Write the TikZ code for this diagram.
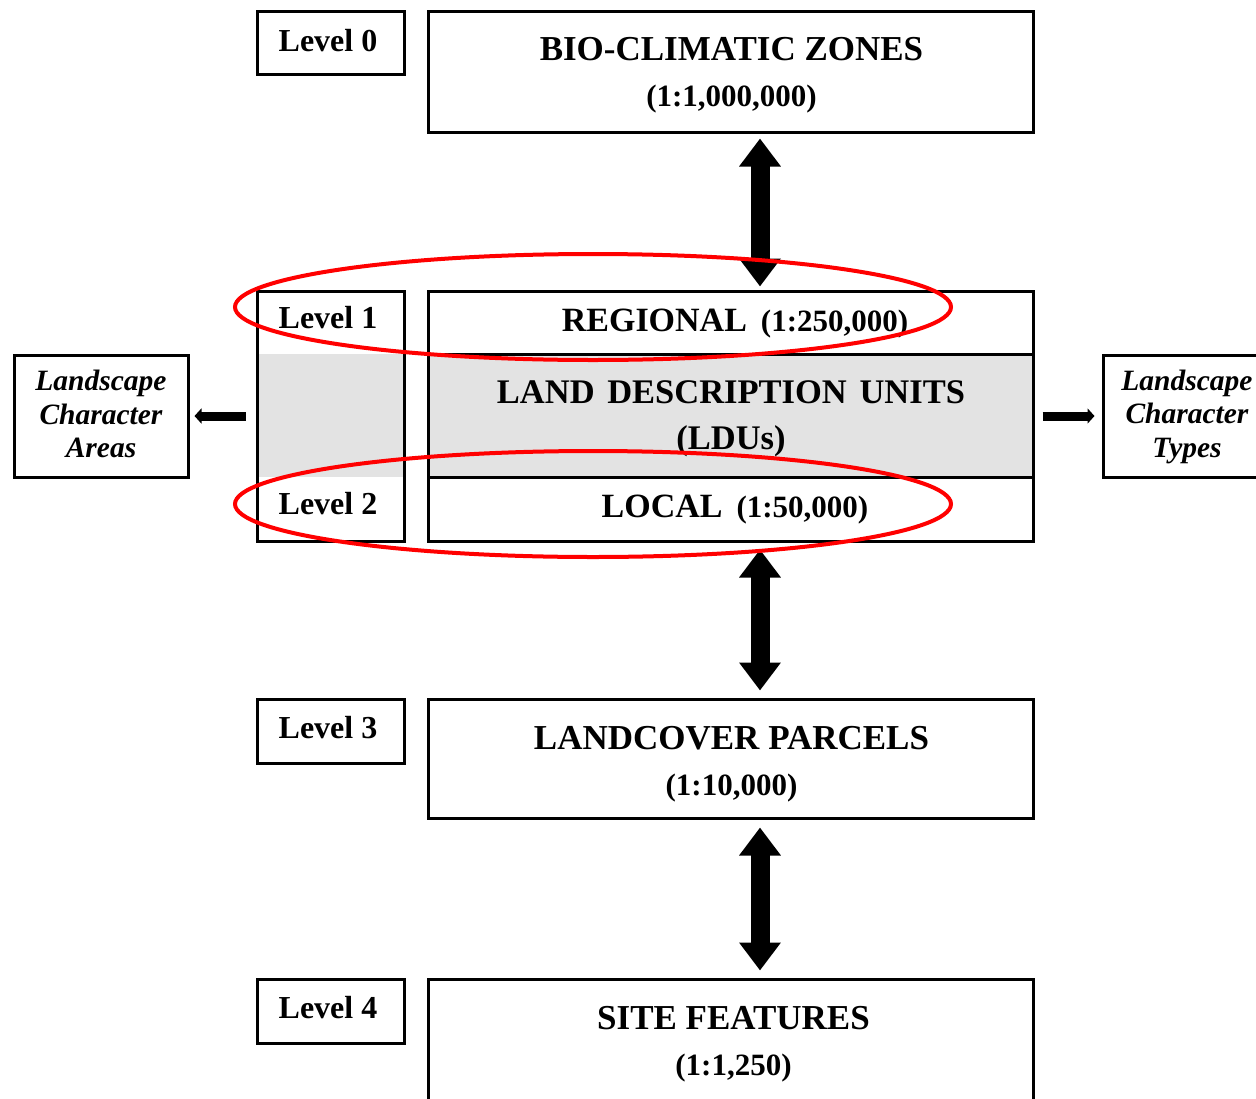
\documentclass[tikz,border=0pt]{standalone}
\usepackage{fontspec}
\setmainfont{Liberation Serif}
\usetikzlibrary{arrows.meta}
\definecolor{ldugray}{HTML}{E3E3E3}
\begin{document}
\begin{tikzpicture}[x=1pt,y=-1pt,
  box/.style={draw, line width=3pt, inner sep=0pt},
  grayfill/.style={fill=ldugray, inner sep=0pt},
  maintxt/.style={font=\fontsize{35}{46}\selectfont\bfseries, align=center, inner sep=0pt},
  lvltxt/.style={font=\fontsize{32}{40}\selectfont\bfseries, inner sep=0pt},
  sidetxt/.style={font=\fontsize{29.5}{33.5}\selectfont\bfseries\itshape, align=center, inner sep=0pt},
  bigarrow/.style={line width=19pt, {Triangle[width=40pt,length=28pt]}-{Triangle[width=40pt,length=28pt]}},
  smallarrow/.style={line width=9pt, -{Triangle[width=15pt,length=7pt]}},
  hl/.style={draw=red, line width=4pt}
]
\newcommand{\scalesz}[1]{{\fontsize{31}{46}\selectfont #1}}
\useasboundingbox (0,0) rectangle (1256,1098);

% Level 0 / Bio-climatic
\node[box, minimum width=147, minimum height=63] (lv0) at (330.5,42.5) {};
\node[lvltxt] (lv0t) at (328,41) {Level 0};
\node[box, minimum width=605, minimum height=121] (bio) at (730.5,71.5) {};
\node[maintxt] (biot) at (731.5,75) {BIO-CLIMATIC ZONES\\\scalesz{(1:1,000,000)}};

% Left level column with grey band
\node[grayfill, minimum width=147, minimum height=123] (lvgray) at (330.5,415.5) {};
\node[box, minimum width=147, minimum height=250] (lvcol) at (330.5,416) {};
\node[lvltxt] (lv1) at (328,318) {Level 1};
\node[lvltxt] (lv2) at (328,504) {Level 2};

% Main block
\node[box, fill=ldugray, minimum width=605, minimum height=123] (ldu) at (730.5,415.5) {};
\node[box, minimum width=605, minimum height=63] (reg) at (730.5,322.5) {};
\node[box, minimum width=605, minimum height=64] (loc) at (730.5,509) {};
\node[maintxt, font=\fontsize{34.5}{46}\selectfont\bfseries] (ldut) at (731,419) {LAND\hspace{4pt} DESCRIPTION\hspace{4pt} UNITS\\(LDUs)};
\node[maintxt, font=\fontsize{34}{46}\selectfont\bfseries] (regt) at (735,324) {REGIONAL\hspace{14pt}\scalesz{(1:250,000)}};
\node[maintxt, font=\fontsize{34}{46}\selectfont\bfseries] (loct) at (735,510) {LOCAL\hspace{14pt}\scalesz{(1:50,000)}};

% Side boxes
\node[box, minimum width=174, minimum height=122] (lca) at (101,416) {};
\node[sidetxt] (lcat) at (101,414) {Landscape\\Character\\Areas};
\node[box, minimum width=174, minimum height=122] (lct) at (1190,416) {};
\node[sidetxt] (lctt) at (1187,416.5) {Landscape\\Character\\Types};

% Level 3 / Landcover
\node[box, minimum width=147, minimum height=64] (lv3) at (330.5,731) {};
\node[lvltxt] (lv3t) at (328,728) {Level 3};
\node[box, minimum width=605, minimum height=119] (lc) at (730.5,758.5) {};
\node[maintxt] (lct3) at (731.5,764) {LANDCOVER PARCELS\\\scalesz{(1:10,000)}};

% Level 4 / Site
\node[box, minimum width=147, minimum height=64] (lv4) at (330.5,1011) {};
\node[lvltxt] (lv4t) at (328,1008) {Level 4};
\node[box, minimum width=605, minimum height=121] (site) at (730.5,1039.5) {};
\node[maintxt] (sitet) at (733.5,1044) {SITE FEATURES\\\scalesz{(1:1,250)}};

% Arrows
\coordinate (ax) at (760,0);
\coordinate (ay) at (0,416);
\draw[bigarrow, shorten <=5pt, shorten >=3pt] (bio.south -| ax) -- (reg.north -| ax);
\draw[bigarrow, shorten <=7pt, shorten >=7pt] (loc.south -| ax) -- (lc.north -| ax);
\draw[bigarrow, shorten <=8pt, shorten >=7pt] (lc.south -| ax) -- (site.north -| ax);
\draw[smallarrow, shorten <=10pt, shorten >=5pt] (lvcol.west |- ay) -- (lca.east |- ay);
\draw[smallarrow, shorten <=8pt, shorten >=7pt] (ldu.east |- ay) -- (lct.west |- ay);

% Highlight ellipses
\draw[hl] (593,307) ellipse [x radius=358, y radius=53];
\draw[hl] (593,504) ellipse [x radius=358, y radius=53];
\end{tikzpicture}
\end{document}
